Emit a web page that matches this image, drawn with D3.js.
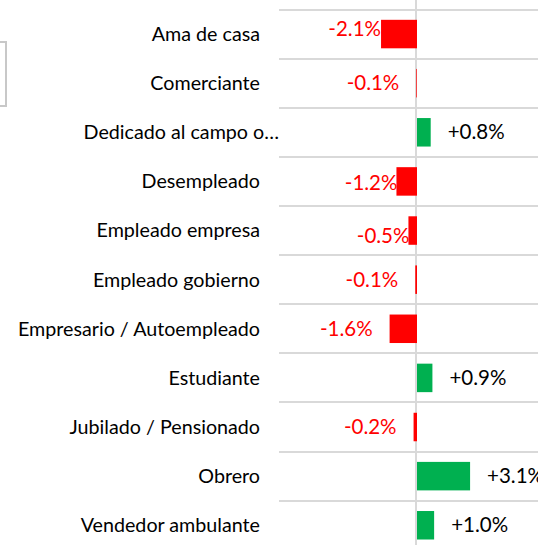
<!DOCTYPE html>
<html>
<head>
<meta charset="utf-8">
<script src="https://cdn.jsdelivr.net/npm/d3@7"></script>
<style>
  html, body { margin: 0; padding: 0; background: #fff; }
  #container { width: 538px; height: 545px; overflow: hidden; }
  text { font-family: "Lato", "Open Sans", sans-serif; }
</style>
</head>
<body>
<div id="container"></div>
<script>
const categories = [
  "Ama de casa", "Comerciante", "Dedicado al campo o…", "Desempleado",
  "Empleado empresa", "Empleado gobierno", "Empresario / Autoempleado",
  "Estudiante", "Jubilado / Pensionado", "Obrero", "Vendedor ambulante"
];
const changes = [-2.1, -0.04, 0.8, -1.2, -0.5, -0.1, -1.6, 0.9, -0.2, 3.1, 1.0];
const shownLabels = ["-2.1%", "-0.1%", "+0.8%", "-1.2%", "-0.5%", "-0.1%", "-1.6%", "+0.9%", "-0.2%", "+3.1%", "+1.0%"];
const axisDomain = [-8, 8];

// labels that Excel had dragged onto the bar end
const labelNudge = {
  "Ama de casa": {dx: 17, dy: -5},
  "Desempleado": {dx: 18, dy: 1},
  "Empleado empresa": {dx: 18, dy: 5}
};

const data = categories.map((c, i) => ({cat: c, value: changes[i], label: shownLabels[i]}));

const W = 538, H = 545;
const svg = d3.select("#container").append("svg")
  .attr("width", W).attr("height", H);

const x = d3.scaleLinear().domain(axisDomain).range([280, 554]);
const y = d3.scaleBand().domain(categories).range([9.5, 9.5 + 49.12 * categories.length]).paddingInner(0.42).paddingOuter(0.21);

const step = y.step();
const bandTop = d => y(d) - y.paddingOuter() * step;

// stray legend box at the left edge
svg.append("rect")
  .attr("x", -20).attr("y", 42).attr("width", 26).attr("height", 64)
  .attr("fill", "none").attr("stroke", "#c8c8c8").attr("stroke-width", 2);

// horizontal gridlines
svg.append("g").selectAll("line")
  .data(categories)
  .join("line")
  .attr("x1", 279).attr("x2", W)
  .attr("y1", d => Math.round(bandTop(d)))
  .attr("y2", d => Math.round(bandTop(d)))
  .attr("stroke", "#d9d9d9").attr("stroke-width", 2);

// zero line
svg.append("line")
  .attr("x1", x(0) - 1).attr("x2", x(0) - 1)
  .attr("y1", 0).attr("y2", H)
  .attr("stroke", "#d9d9d9").attr("stroke-width", 2);

// bars
svg.append("g").selectAll("rect")
  .data(data)
  .join("rect")
  .attr("x", d => Math.min(x(0), x(d.value)))
  .attr("width", d => Math.abs(x(d.value) - x(0)))
  .attr("y", d => y(d.cat))
  .attr("height", y.bandwidth())
  .attr("fill", d => d.value < 0 ? "#ff0000" : "#00b050");

// value labels
svg.append("g").selectAll("text")
  .data(data)
  .join("text")
  .attr("x", d => {
    const n = labelNudge[d.cat] || {dx: 0};
    return d.value < 0 ? x(d.value) - 17 + n.dx : x(d.value) + 17;
  })
  .attr("y", d => y(d.cat) + y.bandwidth() / 2 + ((labelNudge[d.cat] || {dy: 0}).dy))
  .attr("dy", "0.35em")
  .attr("text-anchor", d => d.value < 0 ? "end" : "start")
  .attr("font-size", "20.5px")
  .attr("fill", d => d.value < 0 ? "#ff0000" : "#000")
  .text(d => d.label);

// category labels
svg.append("g").selectAll("text")
  .data(categories)
  .join("text")
  .attr("x", d => d.endsWith("…") ? 279 : 260)
  .attr("y", d => y(d) + y.bandwidth() / 2)
  .attr("dy", "0.35em")
  .attr("text-anchor", "end")
  .attr("font-size", "19.7px")
  .attr("fill", "#000")
  .text(d => d);
</script>
</body>
</html>
